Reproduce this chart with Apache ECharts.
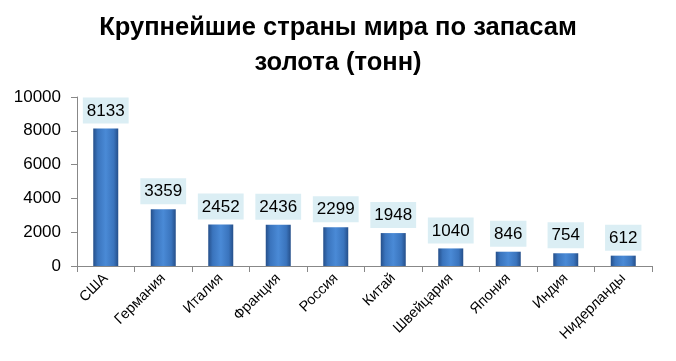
<!DOCTYPE html>
<html><head><meta charset="utf-8">
<script src="https://cdn.jsdelivr.net/npm/echarts@6/dist/echarts.min.js"></script>
<style>html,body{margin:0;padding:0;background:#fff}#c{width:676px;height:361px}</style>
</head><body><div id="c"></div>
<script>
var categories = ['США','Германия','Италия','Франция','Россия','Китай','Швейцария','Япония','Индия','Нидерланды'];
var values = [8133,3359,2452,2436,2299,1948,1040,846,754,612];
var yTicks = [0,2000,4000,6000,8000,10000];
var title = 'Крупнейшие страны мира по запасам\nзолота (тонн)';

var chart = echarts.init(document.getElementById('c'));
chart.setOption({
  animation:false,
  title:{text:title,left:'center',top:5,textStyle:{fontFamily:'Liberation Sans',fontWeight:'bold',fontSize:25.5,lineHeight:35,color:'#000'}},
  grid:{left:77,right:24,top:97,bottom:95},
  xAxis:{type:'category',data:categories,
    axisLine:{lineStyle:{color:'#888'}},
    axisTick:{show:true,alignWithLabel:false,length:6,lineStyle:{color:'#888'}},
    axisLabel:{rotate:45,fontFamily:'Liberation Sans',fontSize:14.5,color:'#000',margin:10,interval:0}},
  yAxis:{type:'value',min:yTicks[0],max:yTicks[yTicks.length-1],interval:2000,
    axisLine:{show:true,lineStyle:{color:'#888'}},
    axisTick:{show:true,length:6,lineStyle:{color:'#888'}},
    splitLine:{show:false},
    axisLabel:{fontFamily:'Liberation Sans',fontSize:17,color:'#000',margin:16,formatter:function(v){return String(v);}}},
  series:[{type:'bar',data:values,barWidth:25,
    itemStyle:{color:new echarts.graphic.LinearGradient(0,0,1,0,[
      {offset:0,color:'#254f8a'},{offset:0.18,color:'#3a74bd'},{offset:0.5,color:'#4a8ad6'},{offset:0.82,color:'#3a74bd'},{offset:1,color:'#254f8a'}])},
    label:{show:true,position:'top',distance:5,fontFamily:'Liberation Sans',fontSize:17,color:'#000',
      backgroundColor:'#dbeef4',padding:[5,4,4,4]}}]
});
</script></body></html>
